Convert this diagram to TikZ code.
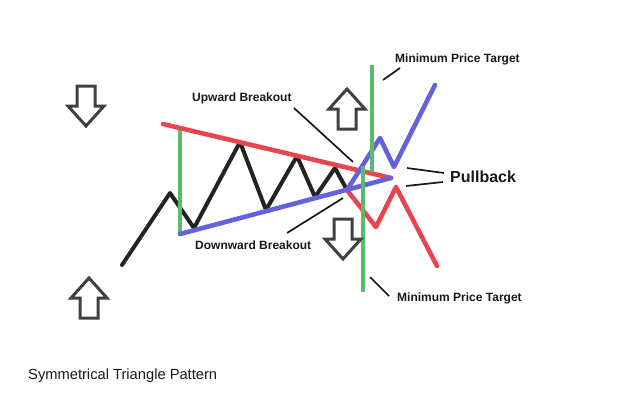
\documentclass[tikz,border=0pt]{standalone}
\usepackage{fontspec}
\setmainfont{Liberation Sans}
\begin{document}
\begin{tikzpicture}[x=1pt,y=-1pt,
  zig/.style={line width=4pt,draw=zigblack,line join=round,line cap=round},
  redln/.style={line width=4.6pt,draw=trendred,line join=round,line cap=round},
  blueln/.style={line width=4.6pt,draw=trendblue,line join=round,line cap=round},
  greenln/.style={line width=4pt,draw=tgreen},
  leader/.style={line width=1.7pt,draw=black!90},
  lbl/.style={inner sep=0pt,anchor=base west,font=\fontsize{12}{14}\selectfont\bfseries,text=black!90},
  blockarrow/.style={line width=3pt,draw=arrowgray,line join=miter},
  uparrow/.pic={\draw[blockarrow] (0,0) -- (18,20) -- (9,20) -- (9,40) -- (-9,40) -- (-9,20) -- (-18,20) -- cycle;},
  downarrow/.pic={\draw[blockarrow] (0,0) -- (18,-20) -- (9,-20) -- (9,-40) -- (-9,-40) -- (-9,-20) -- (-18,-20) -- cycle;}
]
\definecolor{zigblack}{HTML}{232323}
\definecolor{trendred}{HTML}{E8464E}
\definecolor{trendblue}{HTML}{6262DC}
\definecolor{tgreen}{HTML}{5CBB6B}
\definecolor{arrowgray}{HTML}{404040}
\useasboundingbox[fill=white] (0,0) rectangle (625,418);

% zigzag vertices
\coordinate (z0) at (122,265);
\coordinate (z1) at (170,193);
\coordinate (z2) at (194,228);
\coordinate (z3) at (240,142);
\coordinate (z4) at (266,210);
\coordinate (z5) at (297,156);
\coordinate (z6) at (315,197);
\coordinate (z7) at (335,168);
\coordinate (z8) at (347,190);
% trend lines
\coordinate (rt0) at (163,124);
\coordinate (bt0) at (180,234);
\coordinate (apex) at (391,178);
\coordinate (g0t) at (180,129);
% breakouts
\coordinate (b1) at (380,138);
\coordinate (b2) at (394,167);
\coordinate (b3) at (435,85);
\coordinate (r1) at (376,227);
\coordinate (r2) at (396,187);
\coordinate (r3) at (437,266);
% green targets
\coordinate (gu0) at (372,65);
\coordinate (gu1) at (372,172);
\coordinate (gd0) at (363,166);
\coordinate (gd1) at (363,292);

\draw[zig] (z0) -- (z1) -- (z2) -- (z3) -- (z4) -- (z5) -- (z6) -- (z7) -- (z8);
\draw[greenln] (g0t) -- (bt0);
\draw[redln] (rt0) -- (apex);
\draw[blueln] (bt0) -- (apex);
\draw[redln] (z8) -- (r1) -- (r2) -- (r3);
\draw[blueln] (z8) -- (b1) -- (b2) -- (b3);
\draw[greenln] (gu0) -- (gu1);
\draw[greenln] (gd0) -- (gd1);

% block arrows
\pic at (86,126) {downarrow};
\pic at (89,278) {uparrow};
\pic at (347,89) {uparrow};
\pic at (343,259) {downarrow};

% labels
\node[lbl] (mpt1) at (395,62.5) {Minimum Price Target};
\node[lbl] (upb) at (192,101) {Upward Breakout};
\node[lbl] (dnb) at (195,249) {Downward Breakout};
\node[lbl,font=\fontsize{16}{18}\selectfont\bfseries] (pb) at (450,182) {Pullback};
\node[lbl] (mpt2) at (397,301) {Minimum Price Target};
\node[inner sep=0pt,anchor=base west,font=\fontsize{14.7}{17}\selectfont,text=black!90] (title) at (28,379) {Symmetrical Triangle Pattern};

% leader lines
\coordinate (l1a) at (383,80);   \coordinate (l1b) at (400,68);
\coordinate (l2a) at (294,108);  \coordinate (l2b) at (353,162);
\coordinate (l3a) at (287,233);  \coordinate (l3b) at (343,198);
\coordinate (l4a) at (407,168);  \coordinate (l4b) at (444,173);
\coordinate (l5a) at (406,186);  \coordinate (l5b) at (443,182);
\coordinate (l6a) at (370,277);  \coordinate (l6b) at (389,296);
\draw[leader] (l1a) -- (l1b);
\draw[leader] (l2a) -- (l2b);
\draw[leader] (l3a) -- (l3b);
\draw[leader] (l4a) -- (l4b);
\draw[leader] (l5a) -- (l5b);
\draw[leader] (l6a) -- (l6b);
\end{tikzpicture}
\end{document}
